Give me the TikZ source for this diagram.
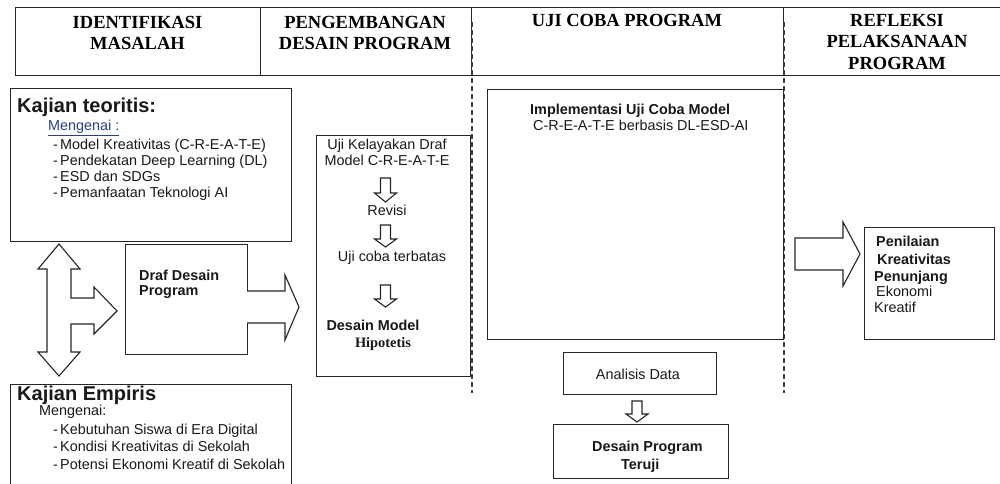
\documentclass[tikz,border=0pt]{standalone}
\usepackage{fontspec}
\setmainfont{Liberation Sans}
\newfontfamily\hdrfont{Liberation Serif}
\usepackage{tikz}
\definecolor{mblue}{HTML}{26408C}

\begin{document}
\begin{tikzpicture}[x=1pt,y=-1pt]
	\tikzstyle{box}=[draw=black!85,line width=1.1pt,inner sep=0pt,anchor=north west]
	\tikzstyle{hdr}=[inner sep=0pt,anchor=north,align=center,font=\hdrfont\bfseries\fontsize{18.5}{21.5}\selectfont]
	\tikzstyle{txt}=[inner sep=0pt,anchor=mid west,text=black!90,font=\fontsize{14.4}{16}\selectfont]
	\tikzstyle{txtb}=[txt,font=\bfseries\fontsize{14.4}{16}\selectfont]
	\tikzstyle{ttl}=[txt,font=\bfseries\fontsize{20}{22}\selectfont]
	\tikzstyle{blk}=[draw=black!85,line width=1.1pt,line join=miter,fill=white]
	\tikzstyle{sep}=[draw=black!75,line width=1.4pt,dash pattern=on 5pt off 3pt]
	\clip (0,0) rectangle (1000,483);
	\fill[white] (0,0) rectangle (1000,483);
	% header row
	\node[box,minimum width=245,minimum height=68](c1) at (15,7) {};
	\node[box,minimum width=211,minimum height=68](c2) at (260,7) {};
	\node[box,minimum width=312,minimum height=68](c3) at (471,7) {};
	\node[box,minimum width=230,minimum height=68](c4) at (783,7) {};
	\node[hdr](h1) at (137.5,16) {IDENTIFIKASI\\MASALAH};
	\node[hdr](h2) at (365,16) {PENGEMBANGAN\\DESAIN PROGRAM};
	\node[hdr](h3) at (627,14) {UJI COBA PROGRAM};
	\node[hdr](h4) at (897,14) {REFLEKSI\\PELAKSANAAN\\PROGRAM};
	\path[sep] (472,22) -- (472,393);
	\path[sep] (784,22) -- (784,393);
	% identifikasi masalah
	\node[box,minimum width=281,minimum height=153](kt) at (10,88) {};
	\node[ttl](kt1) at (17,110) {Kajian teoritis:};
	\node[txt,text=mblue](kt2) at (48,128) {\underline{Mengenai :}};
	\node[txt](kt3) at (53,147) {-\hspace{2.2pt}Model Kreativitas (C-R-E-A-T-E)};
	\node[txt](kt4) at (53,163) {-\hspace{2.2pt}Pendekatan Deep Learning (DL)};
	\node[txt](kt5) at (53,179) {-\hspace{2.2pt}ESD dan SDGs};
	\node[txt](kt6) at (53,195) {-\hspace{2.2pt}Pemanfaatan Teknologi AI};
	\node[box,minimum width=281,minimum height=120](ke) at (10,384) {};
	\node[ttl](ke1) at (17,398) {Kajian Empiris};
	\node[txt](ke2) at (39,413) {Mengenai:};
	\node[txt](ke3) at (53,432) {-\hspace{2.2pt}Kebutuhan Siswa di Era Digital};
	\node[txt](ke4) at (53,449) {-\hspace{2.2pt}Kondisi Kreativitas di Sekolah};
	\node[txt](ke5) at (53,467) {-\hspace{2.2pt}Potensi Ekonomi Kreatif di Sekolah};
	\node[box,minimum width=122,minimum height=110](dd) at (125,244) {};
	\node[txtb](dd1) at (139,278) {Draf Desain};
	\node[txtb](dd2) at (139,293) {Program};
	\draw[blk] (59,244) -- (80,269) -- (71,269) -- (71,298) -- (94,298) -- (94,287)
		-- (117,311) -- (94,334) -- (94,324) -- (71,324) -- (71,352) -- (80,352)
		-- (59,376) -- (38,352) -- (47,352) -- (47,269) -- (38,269) -- cycle;
	\draw[blk] (247,291) -- (285,291) -- (285,275) -- (299,307) -- (285,340) -- (285,323) -- (247,323);
	% pengembangan desain
	\node[box,minimum width=154,minimum height=241](uk) at (316,135) {};
	\node[txt,anchor=mid](uk1) at (387,147) {Uji Kelayakan Draf};
	\node[txt,anchor=mid](uk2) at (387,163) {Model C-R-E-A-T-E};
	\node[txt,anchor=mid](uk3) at (387,213) {Revisi};
	\node[txt,anchor=mid](uk4) at (392,259) {Uji coba terbatas};
	\node[txtb,anchor=mid](uk5) at (373,328) {Desain Model};
	\node[txtb,anchor=mid,font=\hdrfont\bfseries\fontsize{14.4}{16}\selectfont](uk6) at (383,345) {Hipotetis};
	\draw[blk,shift={(385.5,178)}] (-5,0) -- (5,0) -- (5,15) -- (11,15) -- (0,24) -- (-11,15) -- (-5,15) -- cycle;
	\draw[blk,shift={(385.5,225)}] (-5,0) -- (5,0) -- (5,14) -- (11,14) -- (0,22) -- (-11,14) -- (-5,14) -- cycle;
	\draw[blk,shift={(385.5,285)}] (-5,0) -- (5,0) -- (5,14) -- (11,14) -- (0,22) -- (-11,14) -- (-5,14) -- cycle;
	% uji coba program
	\node[box,minimum width=296,minimum height=250](im) at (487,89) {};
	\node[txtb](im1) at (530,112) {Implementasi Uji Coba Model};
	\node[txt](im2) at (533,128) {C-R-E-A-T-E berbasis DL-ESD-AI};
	\node[box,minimum width=153,minimum height=42](ad) at (563,352) {};
	\node[txt,anchor=mid](ad1) at (638,377) {Analisis Data};
	\draw[blk,shift={(637,401)}] (-5,0) -- (5,0) -- (5,13) -- (11,13) -- (0,21) -- (-11,13) -- (-5,13) -- cycle;
	\node[box,minimum width=175,minimum height=54](dt) at (553,424) {};
	\node[txtb](dt1) at (592,449) {Desain Program};
	\node[txtb](dt2) at (621,467) {Teruji};
	% refleksi
	\draw[blk] (795,238) -- (843,238) -- (843,222) -- (860,254) -- (843,286) -- (843,270) -- (795,270) -- cycle;
	\node[box,minimum width=130,minimum height=112](pk) at (864,227) {};
	\node[txtb](pk1) at (876,244) {Penilaian};
	\node[txtb](pk2) at (877,262) {Kreativitas};
	\node[txtb](pk3) at (874,279) {Penunjang};
	\node[txt](pk4) at (876,294) {Ekonomi};
	\node[txt](pk5) at (874,310) {Kreatif};
\end{tikzpicture}
\end{document}
